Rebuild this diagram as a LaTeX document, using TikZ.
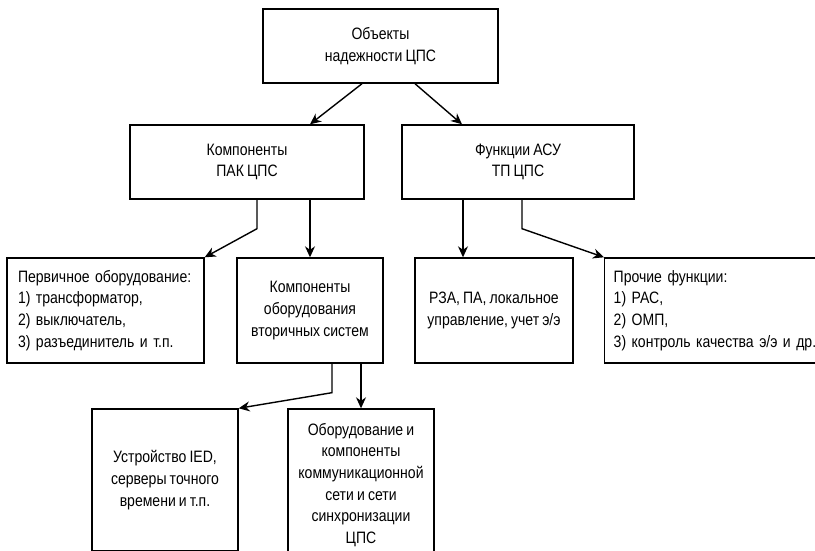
\documentclass[tikz,border=0pt]{standalone}
\usepackage{fontspec}
\setmainfont{Liberation Sans}[FakeStretch=0.85, WordSpace=0.8]
\usetikzlibrary{arrows.meta}
\tikzset{
	block/.style={draw=black, line width=1.4pt, rectangle, inner sep=0pt, align=center, font=\fontsize{16.5}{21.7}\selectfont},
	listblock/.style={block, align=left, inner xsep=11pt},
	link/.style={draw=black, line width=1.4pt, -{Stealth[length=11pt, width=10pt]}}
}

\begin{document}
\begin{tikzpicture}[x=1pt, y=-1pt]
			\clip (0, 0) rectangle (815, 551);
			\node[block, minimum width=235, minimum height=74] (obj) at (380.5, 46) {Объекты\\надежности ЦПС};
			\node[block, minimum width=234, minimum height=74] (pak) at (247, 162) {Компоненты\\ПАК ЦПС};
			\node[block, minimum width=232, minimum height=74] (asu) at (518, 162) {Функции АСУ\\ТП ЦПС};
			\node[listblock, text width=175, minimum height=105] (perv) at (105.5, 310.5) {Первичное оборудование:\\1) трансформатор,\\2) выключатель,\\3) разъединитель и т.п.};
			\node[block, minimum width=146, minimum height=105] (vtor) at (310, 310.5) {Компоненты\\оборудования\\вторичных систем};
			\node[block, minimum width=158, minimum height=105] (rza) at (494, 310.5) {РЗА, ПА, локальное\\управление, учет э/э};
			\node[listblock, inner xsep=9pt, text width=212, minimum height=105, anchor=west] (proch) at (604, 310.5) {Прочие функции:\\1) РАС,\\2) ОМП,\\3) контроль качества э/э и др.};
			\node[block, minimum width=146, minimum height=142] (ied) at (165, 480) {Устройство IED,\\серверы точного\\времени и т.п.};
			\node[block, minimum width=146, minimum height=152] (seti) at (361, 485) {Оборудование и\\компоненты\\коммуникационной\\сети и сети\\синхронизации\\ЦПС};
			\draw[link] ([xshift=-18.5pt]obj.south) -- ([xshift=63pt]pak.north);
			\draw[link] ([xshift=34.5pt]obj.south) -- ([xshift=-56pt]asu.north);
			\draw[link] ([xshift=10pt]pak.south) -- ++(0, 29) -- (perv.north east);
			\draw[link] (pak.south -| vtor.north) -- (vtor.north);
			\draw[link] ([xshift=-31pt]rza.north |- asu.south) -- ([xshift=-31pt]rza.north);
			\draw[link] ([xshift=4pt]asu.south) -- ++(0, 29) -- (proch.north west);
			\draw[link] ([xshift=22pt]vtor.south) -- ++(0, 29) -- (ied.north east);
			\draw[link] (vtor.south -| seti.north) -- (seti.north);
		\end{tikzpicture}
\end{document}
